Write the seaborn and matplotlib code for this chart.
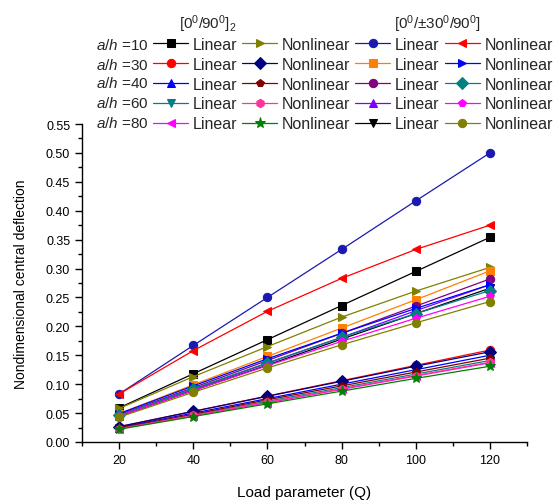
import numpy as np
import matplotlib
matplotlib.use("Agg")
import matplotlib.pyplot as plt
from matplotlib.ticker import MultipleLocator
import seaborn as sns

sns.set_theme(style="ticks")
plt.rcParams['font.family'] = ['Liberation Sans', 'DejaVu Sans']
plt.rcParams['mathtext.fontset'] = 'custom'
plt.rcParams['mathtext.rm'] = 'Liberation Sans'
plt.rcParams['mathtext.it'] = 'Liberation Sans:italic'

# load parameter Q
load_q = [20, 40, 60, 80, 100, 120]
aspect_labels = ["10", "30", "40", "60", "80"]

# [0/90]2 laminate, linear and nonlinear, per a/h
cross_lin = {
    "10": [0.059, 0.118, 0.177, 0.236, 0.295, 0.354],
    "30": [0.0265, 0.053, 0.0795, 0.106, 0.1325, 0.159],
    "40": [0.025, 0.050, 0.075, 0.100, 0.125, 0.150],
    "60": [0.0235, 0.047, 0.0705, 0.094, 0.1175, 0.141],
    "80": [0.0228, 0.0455, 0.068, 0.091, 0.114, 0.137],
}
cross_nonlin = {
    "10": [0.058, 0.113, 0.165, 0.216, 0.261, 0.302],
    "30": [0.0265, 0.053, 0.079, 0.105, 0.131, 0.156],
    "40": [0.024, 0.048, 0.073, 0.097, 0.121, 0.145],
    "60": [0.023, 0.046, 0.069, 0.092, 0.115, 0.138],
    "80": [0.022, 0.044, 0.066, 0.088, 0.110, 0.131],
}
# [0/+-30/90] laminate
angle_lin = {
    "10": [0.083, 0.167, 0.250, 0.333, 0.417, 0.500],
    "30": [0.049, 0.099, 0.148, 0.197, 0.246, 0.296],
    "40": [0.047, 0.094, 0.141, 0.188, 0.235, 0.282],
    "60": [0.0455, 0.091, 0.136, 0.181, 0.227, 0.272],
    "80": [0.0445, 0.089, 0.133, 0.178, 0.222, 0.266],
}
angle_nonlin = {
    "10": [0.083, 0.158, 0.226, 0.283, 0.333, 0.375],
    "30": [0.049, 0.097, 0.144, 0.188, 0.231, 0.272],
    "40": [0.046, 0.092, 0.137, 0.181, 0.222, 0.262],
    "60": [0.045, 0.089, 0.132, 0.174, 0.214, 0.252],
    "80": [0.043, 0.086, 0.128, 0.168, 0.206, 0.243],
}

# (color, marker) for each column of the legend, row = a/h
styles = [
    [("black", "s"), ("#FF0000", "o"), ("#0000FF", "^"), ("#008080", "v"), ("#FF00FF", "<")],
    [("#808000", ">"), ("#000080", "D"), ("#800000", "p"), ("#FF3399", "h"), ("#008000", "*")],
    [("#1A1AB0", "o"), ("#FF8000", "s"), ("#800080", "o"), ("#8000FF", "^"), ("black", "v")],
    [("#FF0000", "<"), ("#0000FF", ">"), ("#008080", "D"), ("#FF00FF", "p"), ("#808000", "o")],
]
groups = [cross_lin, cross_nonlin, angle_lin, angle_nonlin]
names = ["Linear", "Nonlinear", "Linear", "Nonlinear"]

fig = plt.figure(figsize=(5.56, 5.02), dpi=100)
ax = fig.add_axes([82 / 556, 59 / 502, 445 / 556, 318 / 502])

handles, labels = [], []
for g, (data, name) in enumerate(zip(groups, names)):
    for r, key in enumerate(aspect_labels):
        color, marker = styles[g][r]
        ms = 8 if marker == "*" else 6
        sns.lineplot(x=load_q, y=data[key], ax=ax, color=color, marker=marker,
                     markersize=ms, markeredgecolor=color, linewidth=0.9)
        handles.append(ax.get_lines()[-1])
        labels.append(name)

ax.set_xlim(10, 130)
ax.set_ylim(0, 0.55)
ax.xaxis.set_major_locator(MultipleLocator(20))
ax.xaxis.set_minor_locator(MultipleLocator(10))
ax.yaxis.set_major_locator(MultipleLocator(0.05))
ax.yaxis.set_minor_locator(MultipleLocator(0.025))
ax.yaxis.set_major_formatter(matplotlib.ticker.FormatStrFormatter('%.2f'))
ax.set_xticks([20, 40, 60, 80, 100, 120])
sns.despine(ax=ax)
for sp in ["left", "bottom"]:
    ax.spines[sp].set_color("black")
    ax.spines[sp].set_linewidth(1.0)
ax.tick_params(which="major", direction="out", length=5, width=1, colors="black",
               labelsize=9, labelcolor="black")
ax.tick_params(which="minor", direction="out", length=3, width=1, colors="black")
ax.set_xlabel("Load parameter (Q)", fontsize=11, labelpad=14, color="black")
ax.set_ylabel("Nondimensional central deflection", fontsize=10, color="black")
ax.yaxis.set_label_coords(-54 / 445, 0.5)

leg = fig.legend(handles, labels, ncol=4, loc="upper left",
                 bbox_to_anchor=(153 / 556, 1 - 38 / 502), frameon=False,
                 fontsize=11.5, handlelength=2.2, handletextpad=0.3,
                 columnspacing=0.3, labelspacing=0.3, borderpad=0,
                 borderaxespad=0)

row_y = [46, 65, 84, 104, 124]
for key, y in zip(aspect_labels, row_y):
    fig.text(149 / 556, 1 - y / 502, r"$a/h$ =" + key, ha="right", va="center",
             fontsize=11)

fig.text(208 / 556, 1 - 24 / 502, r"[0$^0$/90$^0$]$_2$", ha="center", va="center", fontsize=11)
fig.text(437 / 556, 1 - 24 / 502, r"[0$^0$/$\pm$30$^0$/90$^0$]", ha="center", va="center", fontsize=11)

fig.savefig("out.png", dpi=100)
